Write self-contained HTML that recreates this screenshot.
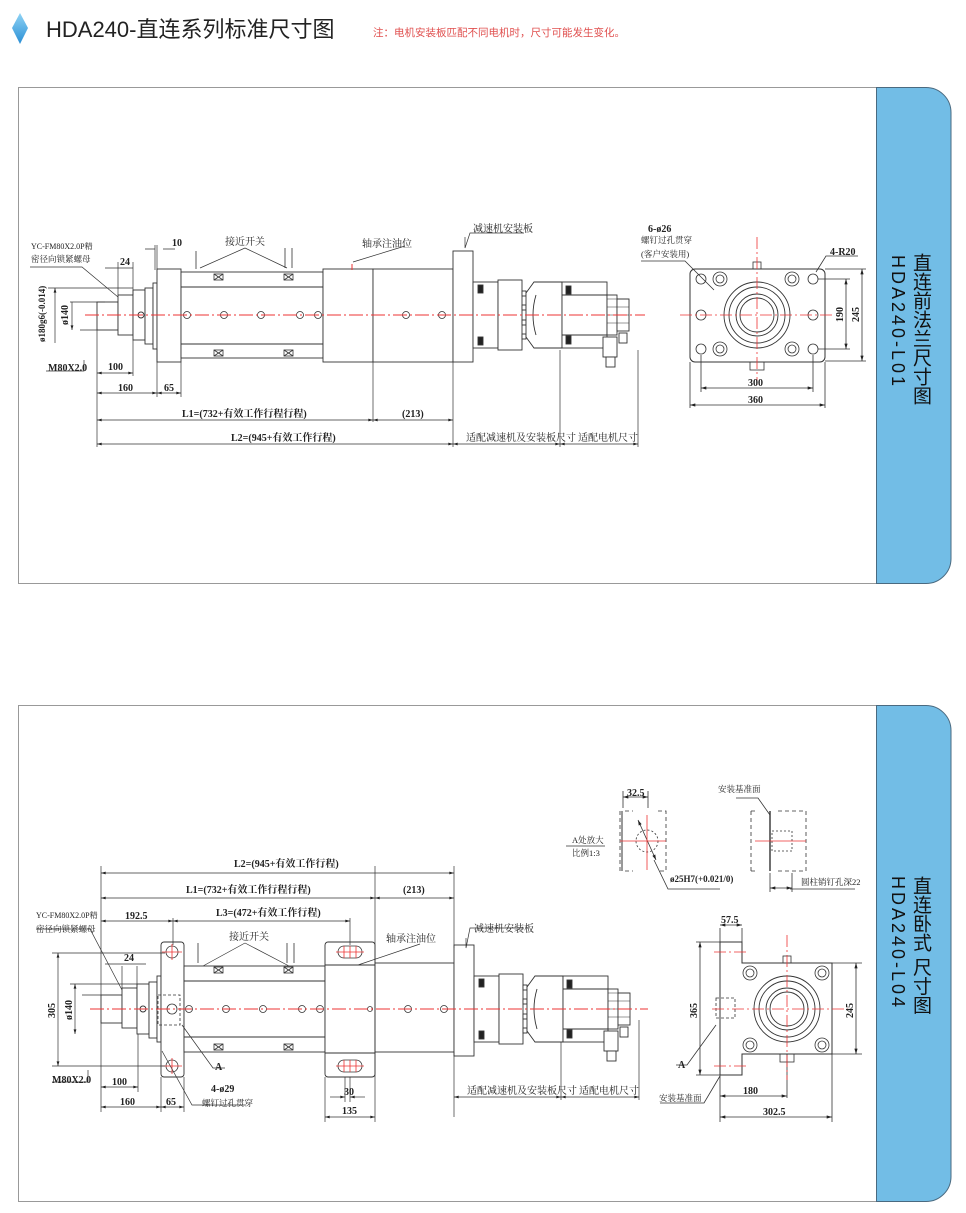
<!DOCTYPE html>
<html><head><meta charset="utf-8"><style>
html,body{margin:0;padding:0;background:#fff;}
body{width:966px;height:1213px;position:relative;overflow:hidden;font-family:"Liberation Sans","Noto Sans CJK SC",sans-serif;}
.tabt{position:absolute;writing-mode:vertical-rl;color:#111;font-family:"Liberation Sans","Noto Sans CJK SC",sans-serif;}
.d text{font-weight:bold;}
</style></head><body>
<svg width="966" height="1213" viewBox="0 0 966 1213" xmlns="http://www.w3.org/2000/svg" style="position:absolute;left:0;top:0">
<defs>
<linearGradient id="dg" x1="0" y1="0" x2="0" y2="1"><stop offset="0" stop-color="#8fd3f5"/><stop offset="1" stop-color="#2a8fd6"/></linearGradient>
<marker id="a" viewBox="0 0 10 6" refX="10" refY="3" markerWidth="7" markerHeight="4" orient="auto-start-reverse"><path d="M0,0L10,3L0,6z" fill="#222"/></marker>
<g id="motor" fill="#fff" stroke="#333" stroke-width="0.9">
  <rect x="453" y="-64" width="20" height="111"/>
  <rect x="473" y="-33" width="25" height="66"/>
  <rect x="478" y="-30" width="5" height="8" fill="#222"/><rect x="478" y="22" width="5" height="8" fill="#222"/>
  <rect x="498" y="-35" width="24" height="70"/>
  <rect x="522" y="-24" width="4" height="5"/><rect x="522" y="-10" width="4" height="5"/><rect x="522" y="5" width="4" height="5"/><rect x="522" y="19" width="4" height="5"/>
  <path d="M526,-22 L534,-33 L562,-33 L562,33 L534,33 L526,22 Z"/>
  <path d="M536,-20 Q530,0 536,20"/>
  <rect x="562" y="-33" width="45" height="66"/>
  <rect x="566" y="-29" width="5" height="8" fill="#222"/><rect x="566" y="21" width="5" height="8" fill="#222"/>
  <line x1="562" y1="-20" x2="607" y2="-20"/><line x1="562" y1="20" x2="607" y2="20"/>
  <rect x="607" y="-20" width="10" height="40"/>
  <rect x="617" y="-16" width="12" height="32"/>
  <path d="M607,-16h22M607,-8h22M607,0h22M607,8h22" stroke-width="0.5"/>
  <rect x="603" y="22" width="14" height="20"/><rect x="606" y="42" width="9" height="10"/>
  <rect x="619" y="18" width="8" height="10"/>
</g>
<g id="ends" fill="none" stroke="#333" stroke-width="0.9">
  <circle r="33"/><circle r="28"/><circle r="21"/><circle r="17"/>
</g>
</defs>

<path d="M20,13 L28,28 L20,44 L12,28 Z" fill="url(#dg)"/>
<text x="46" y="37" font-size="22" fill="#222" font-family="Liberation Sans,Noto Sans CJK SC,sans-serif">HDA240-直连系列标准尺寸图</text>
<text x="373" y="36" font-size="10.5" fill="#e0504f" font-family="Liberation Sans,Noto Sans CJK SC,sans-serif">注：电机安装板匹配不同电机时，尺寸可能发生变化。</text>

<rect x="18.5" y="87.5" width="870" height="496" fill="#fff" stroke="#999"/>
<path d="M876.5,87.5 H926 A25,25 0 0 1 951,112.5 V558 A25,25 0 0 1 926,583.5 H876.5 Z" fill="#72bde6" stroke="#4a6a80"/>
<rect x="18.5" y="705.5" width="870" height="496" fill="#fff" stroke="#999"/>
<path d="M876.5,705.5 H926 A25,25 0 0 1 951,730.5 V1176 A25,25 0 0 1 926,1201.5 H876.5 Z" fill="#72bde6" stroke="#4a6a80"/>

<g font-family="Liberation Serif,Noto Serif CJK SC,serif" font-size="10" fill="#222">
<g fill="#fff" stroke="#333" stroke-width="0.9">
  <rect x="97" y="302" width="21" height="28"/>
  <rect x="118" y="295" width="15" height="40"/>
  <rect x="133" y="290" width="12" height="50"/>
  <rect x="145" y="288" width="8" height="56"/>
  <rect x="153" y="283" width="4" height="66"/>
  <rect x="157" y="269" width="24" height="93"/>
  <rect x="181" y="272" width="142" height="86"/>
  <line x1="181" y1="287" x2="323" y2="287"/><line x1="181" y1="344" x2="323" y2="344"/>
  <rect x="323" y="269" width="50" height="93"/>
  <rect x="373" y="269" width="80" height="93"/>
  <circle cx="141" cy="315" r="3"/>
</g>
<g stroke="#333" stroke-width="0.8" fill="none">
  <rect x="214" y="274" width="9" height="6"/><rect x="284" y="274" width="9" height="6"/>
  <rect x="214" y="350" width="9" height="6"/><rect x="284" y="350" width="9" height="6"/>
  <path d="M214,274l9,6M214,280l9,-6M284,274l9,6M284,280l9,-6M214,350l9,6M214,356l9,-6M284,350l9,6M284,356l9,-6"/>
  <path d="M196,251v18M285,248v20M292,248v20"/>
  <circle cx="187" cy="315" r="3.5"/><circle cx="224" cy="315" r="3.5"/><circle cx="261" cy="315" r="3.5"/><circle cx="300" cy="315" r="3.5"/><circle cx="318" cy="315" r="3.5"/><circle cx="406" cy="315" r="3.5"/><circle cx="442" cy="315" r="3.5"/>
</g>
<use href="#motor" transform="translate(0,315)"/>
<line x1="85" y1="315" x2="645" y2="315" stroke="#e33" stroke-width="0.9" stroke-dasharray="14,3,2,3"/>
<line x1="352" y1="264" x2="352" y2="270" stroke="#e33"/>
<g stroke="#333" stroke-width="0.7" fill="none">
  <path d="M97,330V447M157,349V397M181,362V397M373,362V422M453,362V447M560,350V447M638,350V447M48,288H133M70,302H105M80,330H97"/>
  <path d="M55,288V343M72,302V330" marker-start="url(#a)" marker-end="url(#a)"/>
  <line x1="97" y1="373" x2="133" y2="373" marker-start="url(#a)" marker-end="url(#a)"/>
  <path d="M133,340V376M118,262V295M133,262V295"/>
  <line x1="97" y1="393" x2="157" y2="393" marker-start="url(#a)" marker-end="url(#a)"/>
  <line x1="157" y1="393" x2="181" y2="393" marker-start="url(#a)" marker-end="url(#a)"/>
  <line x1="97" y1="420" x2="373" y2="420" marker-start="url(#a)" marker-end="url(#a)"/>
  <line x1="373" y1="420" x2="453" y2="420" marker-start="url(#a)" marker-end="url(#a)"/>
  <line x1="97" y1="444" x2="453" y2="444" marker-start="url(#a)" marker-end="url(#a)"/>
  <line x1="453" y1="444" x2="560" y2="444" marker-start="url(#a)" marker-end="url(#a)"/>
  <line x1="560" y1="444" x2="638" y2="444" marker-start="url(#a)" marker-end="url(#a)"/>
  <path d="M105,268H133M30,267H82L118,297M145,249H155M163,249H175M155,245V270M157,245V270M46,371H84V360"/>
  <path d="M245,248L200,268M245,248L287,268M405,246L353,262M465,237V248L470,233H524"/>
</g>
<text x="31" y="249" font-size="8">YC-FM80X2.0P精</text>
<text x="31" y="262" font-size="8.5">密径向锁紧螺母</text>
<g class="d"><text x="120" y="265">24</text><text x="172" y="246">10</text></g>
<text x="225" y="245">接近开关</text><text x="362" y="247">轴承注油位</text><text x="473" y="232">减速机安装板</text>
<g class="d"><text x="48" y="371">M80X2.0</text><text x="108" y="370">100</text><text x="118" y="391">160</text><text x="164" y="391">65</text>
<text x="182" y="417">L1=(732+有效工作行程行程)</text><text x="402" y="417">(213)</text>
<text x="231" y="441">L2=(945+有效工作行程)</text></g>
<text x="466" y="441">适配减速机及安装板尺寸</text><text x="578" y="441">适配电机尺寸</text>
<g class="d"><text transform="translate(45,342) rotate(-90)" font-size="9">ø180g6(-0.014)</text>
<text transform="translate(68,325) rotate(-90)">ø140</text></g>

<rect x="690" y="269" width="135" height="93" rx="5" fill="#fff" stroke="#333"/>
<use href="#ends" transform="translate(757,315)"/>
<g stroke="#333" fill="none" stroke-width="0.8">
  <circle cx="720" cy="279" r="7"/><circle cx="720" cy="279" r="4"/><circle cx="792" cy="279" r="7"/><circle cx="792" cy="279" r="4"/>
  <circle cx="720" cy="349" r="7"/><circle cx="720" cy="349" r="4"/><circle cx="792" cy="349" r="7"/><circle cx="792" cy="349" r="4"/>
  <circle cx="701" cy="279" r="5"/><circle cx="813" cy="279" r="5"/><circle cx="701" cy="315" r="5"/><circle cx="813" cy="315" r="5"/><circle cx="701" cy="349" r="5"/><circle cx="813" cy="349" r="5"/>
  <rect x="750" y="362" width="14" height="8"/><rect x="753" y="262" width="8" height="7"/>
  <path d="M690,362V408M825,362V408M701,355V392M813,355V392M818,279H850M818,349H850M825,269H866M825,361H866"/>
  <line x1="701" y1="388" x2="813" y2="388" marker-start="url(#a)" marker-end="url(#a)"/>
  <line x1="690" y1="405" x2="825" y2="405" marker-start="url(#a)" marker-end="url(#a)"/>
  <line x1="846" y1="279" x2="846" y2="349" marker-start="url(#a)" marker-end="url(#a)"/>
  <line x1="862" y1="269" x2="862" y2="361" marker-start="url(#a)" marker-end="url(#a)"/>
  <path d="M641,261H685L714,290M816,272L826,256H858"/>
</g>
<g stroke="#e33" stroke-width="0.8" stroke-dasharray="12,3,2,3"><line x1="680" y1="315" x2="835" y2="315"/><line x1="757" y1="237" x2="757" y2="385"/></g>
<text x="648" y="232" font-size="10" font-weight="bold">6-ø26</text>
<text x="641" y="243" font-size="8.5">螺钉过孔贯穿</text><text x="641" y="257" font-size="8.5">(客户安装用)</text>
<g class="d"><text x="830" y="255">4-R20</text>
<text x="748" y="386">300</text><text x="748" y="403">360</text>
<text transform="translate(843,322) rotate(-90)">190</text><text transform="translate(859,322) rotate(-90)">245</text></g>

<g fill="#fff" stroke="#333" stroke-width="0.9">
  <rect x="101" y="995" width="21" height="28"/>
  <rect x="122" y="988" width="15" height="40"/>
  <rect x="137" y="984" width="12" height="50"/>
  <rect x="149" y="982" width="8" height="56"/>
  <rect x="157" y="976" width="4" height="66"/>
  <rect x="161" y="942" width="23" height="135" rx="3"/>
  <rect x="184" y="966" width="141" height="86"/>
  <line x1="184" y1="981" x2="325" y2="981"/><line x1="184" y1="1037" x2="325" y2="1037"/>
  <rect x="325" y="942" width="50" height="135" rx="3"/>
  <line x1="325" y1="965" x2="375" y2="965"/><line x1="325" y1="1053" x2="375" y2="1053"/>
  <rect x="375" y="963" width="79" height="89"/>
  <circle cx="143" cy="1009" r="3"/>
</g>
<g stroke="#333" stroke-width="0.8" fill="none">
  <circle cx="172" cy="952" r="6"/><circle cx="172" cy="1066" r="6"/><circle cx="172" cy="1009" r="5"/>
  <rect x="338" y="946" width="24" height="12" rx="6"/><rect x="338" y="1060" width="24" height="12" rx="6"/>
  <rect x="158" y="995" width="22" height="30" stroke-dasharray="3,2"/>
  <rect x="214" y="967" width="9" height="6"/><rect x="284" y="967" width="9" height="6"/>
  <rect x="214" y="1044" width="9" height="6"/><rect x="284" y="1044" width="9" height="6"/>
  <path d="M214,967l9,6M214,973l9,-6M284,967l9,6M284,973l9,-6M214,1044l9,6M214,1050l9,-6M284,1044l9,6M284,1050l9,-6"/>
  <path d="M198,943v20M287,943v20M294,943v20"/>
  <circle cx="189" cy="1009" r="3.5"/><circle cx="226" cy="1009" r="3.5"/><circle cx="263" cy="1009" r="3.5"/><circle cx="302" cy="1009" r="3.5"/><circle cx="320" cy="1009" r="3.5"/><circle cx="370" cy="1009" r="2.5"/><circle cx="408" cy="1009" r="3.5"/><circle cx="444" cy="1009" r="3.5"/>
</g>
<use href="#motor" transform="translate(1,1009)"/>
<line x1="90" y1="1009" x2="648" y2="1009" stroke="#e33" stroke-width="0.9" stroke-dasharray="14,3,2,3"/>
<g stroke="#e33" stroke-width="0.8"><path d="M162,952h20M172,944v16M162,1066h20M172,1058v16M336,952h28M344,946v12M350,946v12M356,946v12M336,1066h28M344,1060v12M350,1060v12M356,1060v12"/></g>
<g stroke="#333" stroke-width="0.7" fill="none">
  <path d="M101,1020V1112M454,1052V1117M375,1077V1122M325,1077V1122M161,1077V1112M184,1077V1112M138,1034V1092M350,1077V1102M345,1077V1102M375,866V1077"/>
  <path d="M101,866V995M173,918V945M350,918V945M454,866V948M52,953H165M52,1066H165M70,984H137M82,995H101"/>
  <line x1="101" y1="873" x2="454" y2="873" marker-start="url(#a)" marker-end="url(#a)"/>
  <line x1="101" y1="898" x2="375" y2="898" marker-start="url(#a)" marker-end="url(#a)"/>
  <line x1="375" y1="898" x2="454" y2="898" marker-start="url(#a)" marker-end="url(#a)"/>
  <line x1="101" y1="921" x2="173" y2="921" marker-start="url(#a)" marker-end="url(#a)"/>
  <line x1="173" y1="921" x2="350" y2="921" marker-start="url(#a)" marker-end="url(#a)"/>
  <line x1="58" y1="953" x2="58" y2="1066" marker-start="url(#a)" marker-end="url(#a)"/>
  <line x1="75" y1="984" x2="75" y2="1034" marker-start="url(#a)" marker-end="url(#a)"/>
  <line x1="101" y1="1087" x2="138" y2="1087" marker-start="url(#a)" marker-end="url(#a)"/>
  <line x1="101" y1="1107" x2="161" y2="1107" marker-start="url(#a)" marker-end="url(#a)"/>
  <line x1="161" y1="1107" x2="184" y2="1107" marker-start="url(#a)" marker-end="url(#a)"/>
  <line x1="325" y1="1117" x2="375" y2="1117" marker-start="url(#a)" marker-end="url(#a)"/>
  <line x1="330" y1="1097" x2="345" y2="1097" marker-end="url(#a)"/><line x1="365" y1="1097" x2="350" y2="1097" marker-end="url(#a)"/>
  <line x1="454" y1="1097" x2="561" y2="1097" marker-start="url(#a)" marker-end="url(#a)"/>
  <line x1="561" y1="1097" x2="639" y2="1097" marker-start="url(#a)" marker-end="url(#a)"/>
  <path d="M561,1042V1100M639,1020V1100"/>
  <path d="M122,966V988M137,966V988M105,964H146"/>
  <path d="M36,929H90L122,990M52,1082H88V1070M245,943L203,966M245,943L289,966M420,944L358,965M466,938V948L470,928H524"/>
  <path d="M182,1025L213,1068H225M162,1051L192,1105H246"/>
</g>
<text x="36" y="918" font-size="8">YC-FM80X2.0P精</text>
<text x="36" y="932" font-size="8.5">密径向锁紧螺母</text>
<g class="d"><text x="124" y="961">24</text><text x="125" y="919">192.5</text>
<text x="216" y="916">L3=(472+有效工作行程)</text>
<text x="186" y="893">L1=(732+有效工作行程行程)</text><text x="403" y="893">(213)</text>
<text x="234" y="867">L2=(945+有效工作行程)</text></g>
<text x="229" y="940">接近开关</text><text x="386" y="942">轴承注油位</text><text x="474" y="932">减速机安装板</text>
<g class="d"><text x="52" y="1083">M80X2.0</text><text x="112" y="1085">100</text><text x="120" y="1105">160</text><text x="166" y="1105">65</text>
<text x="215" y="1070">A</text><text x="211" y="1092">4-ø29</text></g><text x="202" y="1106" font-size="8.5">螺钉过孔贯穿</text>
<g class="d"><text x="344" y="1095">30</text><text x="342" y="1114">135</text></g>
<text x="467" y="1094">适配减速机及安装板尺寸</text><text x="579" y="1094">适配电机尺寸</text>
<g class="d"><text transform="translate(55,1018) rotate(-90)">305</text><text transform="translate(72,1020) rotate(-90)">ø140</text></g>

<g stroke="#333" stroke-width="0.8" fill="none">
  <path d="M620,811V871M625,811H633M658,811H666V871H658M625,871H633" stroke-dasharray="4,3"/>
  <circle cx="647" cy="841" r="11" stroke-dasharray="2,2"/>
  <path d="M622,811V871" stroke-width="1"/>
  <path d="M623,791V808M648,791V808M654,860L668,889H720"/>
  <line x1="623" y1="797" x2="648" y2="797" marker-start="url(#a)" marker-end="url(#a)"/>
  <line x1="638" y1="820" x2="656" y2="860" marker-start="url(#a)" marker-end="url(#a)"/>
  <path d="M566,846H605"/>
  <path d="M751,811V871M751,811H758M778,811H806V871H778M751,871H758" stroke-dasharray="4,3"/>
  <rect x="772" y="831" width="20" height="20" stroke-dasharray="2,2"/>
  <path d="M770,811V871" stroke-width="1.4"/>
  <path d="M770,873V892M792,873V892M736,798H758L770,815M790,889H855"/>
  <line x1="770" y1="888" x2="792" y2="888" marker-start="url(#a)" marker-end="url(#a)"/>
</g>
<g stroke="#e33" stroke-width="0.8"><path d="M620,841H666M647,815V870M755,841H806"/></g>
<g class="d"><text x="627" y="796">32.5</text></g>
<text x="572" y="843" font-size="8.5">A处放大</text><text x="572" y="856" font-size="8.5">比例1:3</text>
<g class="d"><text x="670" y="882" font-size="9">ø25H7(+0.021/0)</text></g>
<text x="718" y="792" font-size="8.5">安装基准面</text>
<text x="801" y="885" font-size="8.5">圆柱销钉孔深22</text>

<path d="M720,942H742V963H832V1054H742V1075H720Z" fill="#fff" stroke="#333"/>
<use href="#ends" transform="translate(787,1009)"/>
<g stroke="#333" fill="none" stroke-width="0.8">
  <circle cx="750" cy="973" r="7"/><circle cx="750" cy="973" r="4"/><circle cx="822" cy="973" r="7"/><circle cx="822" cy="973" r="4"/>
  <circle cx="750" cy="1045" r="7"/><circle cx="750" cy="1045" r="4"/><circle cx="822" cy="1045" r="7"/><circle cx="822" cy="1045" r="4"/>
  <rect x="780" y="1054" width="14" height="8"/><rect x="783" y="956" width="8" height="7"/>
  <rect x="716" y="998" width="19" height="20" stroke-dasharray="3,2"/>
  <path d="M720,1075V1122M832,1054V1122M787,1054V1098M720,928V942M742,928V942M696,942H720M696,1075H720M832,963H862M832,1054H862"/>
  <line x1="720" y1="925" x2="742" y2="925" marker-start="url(#a)" marker-end="url(#a)"/>
  <line x1="700" y1="942" x2="700" y2="1075" marker-start="url(#a)" marker-end="url(#a)"/>
  <line x1="856" y1="963" x2="856" y2="1054" marker-start="url(#a)" marker-end="url(#a)"/>
  <line x1="720" y1="1096" x2="787" y2="1096" marker-start="url(#a)" marker-end="url(#a)"/>
  <line x1="720" y1="1117" x2="832" y2="1117" marker-start="url(#a)" marker-end="url(#a)"/>
  <path d="M676,1065H687L716,1025M660,1103H704L720,1076"/>
</g>
<g stroke="#e33" stroke-width="0.8" stroke-dasharray="12,3,2,3"><line x1="712" y1="1009" x2="848" y2="1009"/><line x1="787" y1="935" x2="787" y2="1080"/><line x1="714" y1="952" x2="748" y2="952"/><line x1="714" y1="1066" x2="748" y2="1066"/></g>
<g class="d"><text x="721" y="923">57.5</text><text x="678" y="1068">A</text></g>
<text x="659" y="1101" font-size="8.5">安装基准面</text>
<g class="d"><text x="743" y="1094">180</text><text x="763" y="1115">302.5</text>
<text transform="translate(697,1018) rotate(-90)">365</text><text transform="translate(853,1018) rotate(-90)">245</text></g>
</g>
</svg>
<div class="tabt" style="left:909px;top:253px;font-size:19px;line-height:22px;">直连前法兰尺寸图</div>
<div class="tabt" style="left:887px;top:255px;font-size:18px;line-height:22px;letter-spacing:3px;">HDA240-L01</div>
<div class="tabt" style="left:909px;top:876px;font-size:19px;line-height:22px;">直连卧式 尺寸图</div>
<div class="tabt" style="left:887px;top:876px;font-size:18px;line-height:22px;letter-spacing:3px;">HDA240-L04</div>
</body></html>
